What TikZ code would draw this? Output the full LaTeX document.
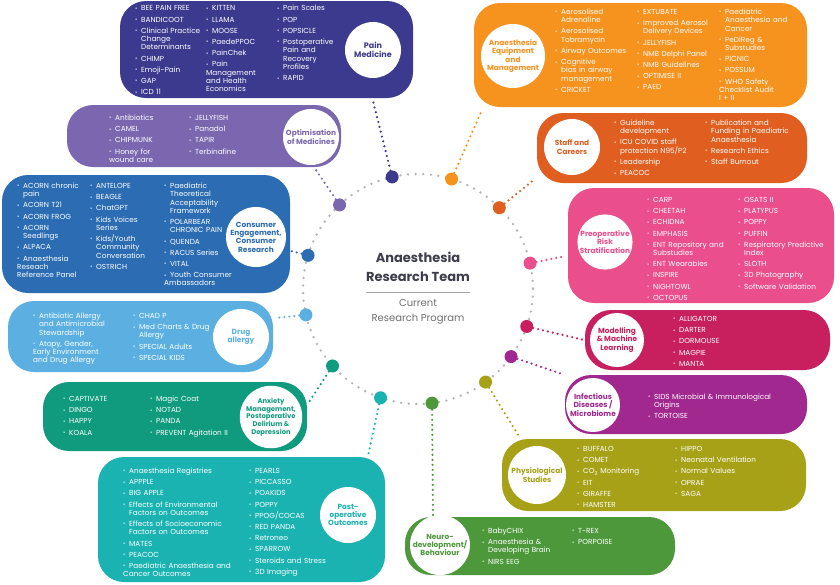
\documentclass[tikz,border=0pt]{standalone}
\usepackage{fontspec}
\setmainfont{Poppins}
\usetikzlibrary{positioning,calc}

\definecolor{painc}{HTML}{3C3A8E}
\definecolor{equipc}{HTML}{F6921E}
\definecolor{optimc}{HTML}{7A67B0}
\definecolor{staffc}{HTML}{E05F20}
\definecolor{consc}{HTML}{2B6CB3}
\definecolor{preopc}{HTML}{EA4F8B}
\definecolor{drugc}{HTML}{5BB0E1}
\definecolor{modelc}{HTML}{C8205F}
\definecolor{infc}{HTML}{A1288F}
\definecolor{anxc}{HTML}{109B7E}
\definecolor{postc}{HTML}{1BB3B1}
\definecolor{physc}{HTML}{A7A118}
\definecolor{neuroc}{HTML}{4D983B}
\definecolor{titlec}{HTML}{3D3D4D}
\definecolor{subc}{HTML}{6D6E71}

% one bullet point of a list
\newcommand{\itm}[1]{\par\hangindent=6pt\hangafter=1\noindent\makebox[6pt][l]{\raisebox{0.6pt}{\scalebox{0.75}{\textbullet}}}{\let\\\newline #1}}

\tikzset{
  box/.style={fill=#1, rounded corners=26pt},
  lst/.style={anchor=north west, inner sep=0pt, text=white, align=left, text width=150pt,
    font=\fontsize{7.3}{8.3}\selectfont, execute at begin node={\setlength{\parskip}{2.9pt}}},
  cat/.style={circle, fill=white, inner sep=0pt, align=center, text=#1,
    font=\bfseries\fontsize{7.4}{8.4}\selectfont},
  rdot/.style={circle, fill=#1, inner sep=0pt, minimum size=13pt},
  link/.style={draw=#1, line width=2.4pt, line cap=round, dash pattern=on 0pt off 5pt},
  ring/.style={draw=black!30, line width=2.6pt, line cap=round, dash pattern=on 0pt off 7.6pt}
}

\begin{document}
\begin{tikzpicture}[x=1pt,y=-1pt]
  \useasboundingbox (0,0) rectangle (840,584);

  % Boxes
  \fill[box=painc] (120,1) rectangle (413,98);
  \fill[box=equipc] (474,3) rectangle (807,107);
  \fill[box=optimc] (67,105) rectangle (341,167);
  \fill[box=staffc] (537,113) rectangle (807,183);
  \fill[box=consc] (2,175) rectangle (290,293);
  \fill[box=preopc] (568,188) rectangle (834,303);
  \fill[box=drugc] (8,301) rectangle (273,372);
  \fill[box=modelc] (585,310) rectangle (830,370);
  \fill[box=infc] (565,375) rectangle (807,434);
  \fill[box=anxc] (43,382) rectangle (307,451);
  \fill[box=physc] (502,439) rectangle (806,511);
  \fill[box=postc] (98,457) rectangle (385,582);
  \fill[box=neuroc] (405,517) rectangle (675,575);

  % Category circles
  \node[cat=painc, minimum size=56pt, font=\bfseries\fontsize{8}{9.5}\selectfont] (pain) at (373,50) {Pain\\Medicine};
  \node[cat=equipc, minimum size=64pt] (equip) at (513,56) {Anaesthesia\\Equipment\\and\\Management};
  \node[cat=optimc, minimum size=56pt] (optim) at (311,137) {Optimisation\\of Medicines};
  \node[cat=staffc, minimum size=56pt] (staff) at (572,147) {Staff and\\Careers};
  \node[cat=consc, minimum size=60pt] (cons) at (256,237) {Consumer\\Engagement,\\Consumer\\Research};
  \node[cat=preopc, minimum size=54pt] (preop) at (605,242) {Preoperative\\Risk\\Stratification};
  \node[cat=drugc, minimum size=56pt] (drug) at (241,337) {Drug\\allergy};
  \node[cat=modelc, minimum size=54pt] (model) at (617,340) {Modelling\\\& Machine\\Learning};
  \node[cat=infc, minimum size=54pt] (inf) at (593,405) {Infectious\\Diseases /\\Microbiome};
  \node[cat=anxc, minimum size=58pt, font=\bfseries\fontsize{6.8}{7.8}\selectfont] (anx) at (271,417) {Anxiety\\Management,\\Postoperative\\Delirium \&\\Depression};
  \node[cat=physc, minimum size=58pt] (phys) at (537,475) {Physiological\\Studies};
  \node[cat=postc, minimum size=56pt] (post) at (348,515) {Post-\\operative\\Outcomes};
  \node[cat=neuroc, minimum size=60pt] (neuro) at (440,545) {Neuro-\\development/\\Behaviour};

  % Project lists
  \node[lst] (pain1) at (135,-0.5) {\itm{BEE PAIN FREE}\itm{BANDICOOT}\itm{Clinical Practice\\Change\\Determinants}\itm{CHIMP}\itm{Emoji-Pain}\itm{GAP}\itm{ICD 11}};
  \node[lst] (pain2) at (206,-0.5) {\itm{KITTEN}\itm{LLAMA}\itm{MOOSE}\itm{PaedePPOC}\itm{PainChek}\itm{Pain\\Management\\and Health\\Economics}};
  \node[lst] (pain3) at (277,-0.5) {\itm{Pain Scales}\itm{POP}\itm{POPSICLE}\itm{Postoperative\\Pain and\\Recovery\\Profiles}\itm{RAPID}};

  \node[lst] (equip1) at (555,3) {\itm{Aerosolised\\Adrenaline}\itm{Aerosolised\\Tobramycin}\itm{Airway Outcomes}\itm{Cognitive\\bias in airway\\management}\itm{CRICKET}};
  \node[lst] (equip2) at (637,3) {\itm{EXTUBATE}\itm{Improved Aerosol\\Delivery Devices}\itm{JELLYFISH}\itm{NMB Delphi Panel}\itm{NMB Guidelines}\itm{OPTIMISE II}\itm{PAED}};
  \node[lst] (equip3) at (719,3) {\itm{Paediatric\\Anaesthesia and\\Cancer}\itm{PeDiReg \&\\Substudies}\itm{PICNIC}\itm{POSSUM}\itm{WHO Safety\\Checklist Audit\\I + II}};

  \node[lst] (optim1) at (109,109) {\itm{Antibiotics}\itm{CAMEL}\itm{CHIPMUNK}\itm{Honey for\\wound care}};
  \node[lst] (optim2) at (189,109) {\itm{JELLYFISH}\itm{Panadol}\itm{TAPIR}\itm{Terbinafine}};

  \node[lst] (staff1) at (614,114) {\itm{Guideline\\development}\itm{ICU COVID staff\\protection N95/P2}\itm{Leadership}\itm{PEACOC}};
  \node[lst] (staff2) at (705,114) {\itm{Publication and\\Funding in Paediatric\\Anaesthesia}\itm{Research Ethics}\itm{Staff Burnout}};

  \node[lst] (cons1) at (17,177) {\itm{ACORN chronic\\pain}\itm{ACORN T21}\itm{ACORN FROG}\itm{ACORN\\Seedlings}\itm{ALPACA}\itm{Anaesthesia\\Reseach\\Reference Panel}};
  \node[lst] (cons2) at (90,177) {\itm{ANTELOPE}\itm{BEAGLE}\itm{ChatGPT}\itm{Kids Voices\\Series}\itm{Kids/Youth\\Community\\Conversation}\itm{OSTRICH}};
  \node[lst] (cons3) at (164,177) {\itm{Paediatric\\Theoretical\\Acceptability\\Framework}\itm{POLARBEAR\\CHRONIC PAIN}\itm{QUENDA}\itm{RACUS Series}\itm{VITAL}\itm{Youth Consumer\\Ambassadors}};

  \node[lst] (preop1) at (647,191) {\itm{CARP}\itm{CHEETAH}\itm{ECHIDNA}\itm{EMPHASIS}\itm{ENT Repository and\\Substudies}\itm{ENT Wearables}\itm{INSPIRE}\itm{NIGHTOWL}\itm{OCTOPUS}};
  \node[lst] (preop2) at (738,191) {\itm{OSATS II}\itm{PLATYPUS}\itm{POPPY}\itm{PUFFIN}\itm{Respiratory Predictive\\Index}\itm{SLOTH}\itm{3D Photography}\itm{Software Validation}};

  \node[lst] (drug1) at (33,307) {\itm{Antibiotic Allergy\\and Antimicrobial\\Stewardship}\itm{Atopy, Gender,\\Early Environment\\and Drug Allergy}};
  \node[lst] (drug2) at (133,307) {\itm{CHAD P}\itm{Med Charts \& Drug\\Allergy}\itm{SPECIAL Adults}\itm{SPECIAL KIDS}};

  \node[lst] (model1) at (673,310) {\itm{ALLIGATOR}\itm{DARTER}\itm{DORMOUSE}\itm{MAGPIE}\itm{MANTA}};

  \node[lst] (inf1) at (648,388) {\itm{SIDS Microbial \& Immunological\\Origins}\itm{TORTOISE}};

  \node[lst] (anx1) at (63,390) {\itm{CAPTIVATE}\itm{DINGO}\itm{HAPPY}\itm{KOALA}};
  \node[lst] (anx2) at (150,390) {\itm{Magic Coat}\itm{NOTAD}\itm{PANDA}\itm{PREVENT Agitation II}};

  \node[lst] (phys1) at (577,440) {\itm{BUFFALO}\itm{COMET}\itm{CO\textsubscript{2} Monitoring}\itm{EIT}\itm{GIRAFFE}\itm{HAMSTER}};
  \node[lst] (phys2) at (675,440) {\itm{HIPPO}\itm{Neonatal Ventilation}\itm{Normal Values}\itm{OPRAE}\itm{SAGA}};

  \node[lst] (post1) at (123,462) {\itm{Anaesthesia Registries}\itm{APPPLE}\itm{BIG APPLE}\itm{Effects of Environmental\\Factors on Outcomes}\itm{Effects of Socioeconomic\\Factors on Outcomes}\itm{MATES}\itm{PEACOC}\itm{Paediatric Anaesthesia and\\Cancer Outcomes}};
  \node[lst] (post2) at (249,462) {\itm{PEARLS}\itm{PICCASSO}\itm{POAKIDS}\itm{POPPY}\itm{PPOG/COCAS}\itm{RED PANDA}\itm{Retroneo}\itm{SPARROW}\itm{Steroids and Stress}\itm{3D Imaging}};

  \node[lst] (neuro1) at (482,522) {\itm{BabyCHIX}\itm{Anaesthesia \&\\Developing Brain}\itm{NIRS EEG}};
  \node[lst] (neuro2) at (572,522) {\itm{T-REX}\itm{PORPOISE}};

  % Centre
  \coordinate (ctr) at (418,289);
  \draw[ring] (ctr) circle[radius=115];
  \node[font=\bfseries\fontsize{13}{19.5}\selectfont, text=titlec, align=center] (title) at (418,267) {Anaesthesia\\Research Team};
  \coordinate (rulel) at (366,292);
  \coordinate (ruler) at (470,292);
  \draw[black!35, line width=0.8pt] (rulel) -- (ruler);
  \node[font=\fontsize{10}{15}\selectfont, text=subc, align=center] (sub) at (418,312) {Current\\Research Program};

  % Ring dots
  \node[rdot=painc] (dpain) at ($(ctr)+(-103:115)$) {};
  \node[rdot=equipc] (dequip) at ($(ctr)+(-73:115)$) {};
  \node[rdot=optimc] (doptim) at ($(ctr)+(-133:115)$) {};
  \node[rdot=staffc] (dstaff) at ($(ctr)+(-45:115)$) {};
  \node[rdot=consc] (dcons) at ($(ctr)+(-163:115)$) {};
  \node[rdot=preopc] (dpreop) at ($(ctr)+(-13:115)$) {};
  \node[rdot=drugc] (ddrug) at ($(ctr)+(167:115)$) {};
  \node[rdot=modelc] (dmodel) at ($(ctr)+(19:115)$) {};
  \node[rdot=infc] (dinf) at ($(ctr)+(36:115)$) {};
  \node[rdot=anxc] (danx) at ($(ctr)+(138:115)$) {};
  \node[rdot=physc] (dphys) at ($(ctr)+(54:115)$) {};
  \node[rdot=postc] (dpost) at ($(ctr)+(109:115)$) {};
  \node[rdot=neuroc] (dneuro) at ($(ctr)+(83:115)$) {};

  % Connector ends at the boxes
  \coordinate (epain) at (373,101);
  \coordinate (eequip) at (482,110);
  \coordinate (eoptim) at (316,170);
  \coordinate (estaff) at (535,179);
  \coordinate (econs) at (291,251);
  \coordinate (epreop) at (566,256);
  \coordinate (edrug) at (276,318);
  \coordinate (emodel) at (584,340);
  \coordinate (einf) at (562,374);
  \coordinate (eanx) at (309,402);
  \coordinate (ephys) at (520,438);
  \coordinate (epost) at (368,456);
  \coordinate (eneuro) at (433,515);

  % Dotted connectors
  \draw[link=painc] (dpain) -- (epain);
  \draw[link=equipc] (dequip) -- (eequip);
  \draw[link=optimc] (doptim) -- (eoptim);
  \draw[link=staffc] (dstaff) -- (estaff);
  \draw[link=consc] (dcons) -- (econs);
  \draw[link=preopc] (dpreop) -- (epreop);
  \draw[link=drugc] (ddrug) -- (edrug);
  \draw[link=modelc] (dmodel) -- (emodel);
  \draw[link=infc] (dinf) -- (einf);
  \draw[link=anxc] (danx) -- (eanx);
  \draw[link=physc] (dphys) -- (ephys);
  \draw[link=postc] (dpost) -- (epost);
  \draw[link=neuroc] (dneuro) -- (eneuro);
\end{tikzpicture}
\end{document}
